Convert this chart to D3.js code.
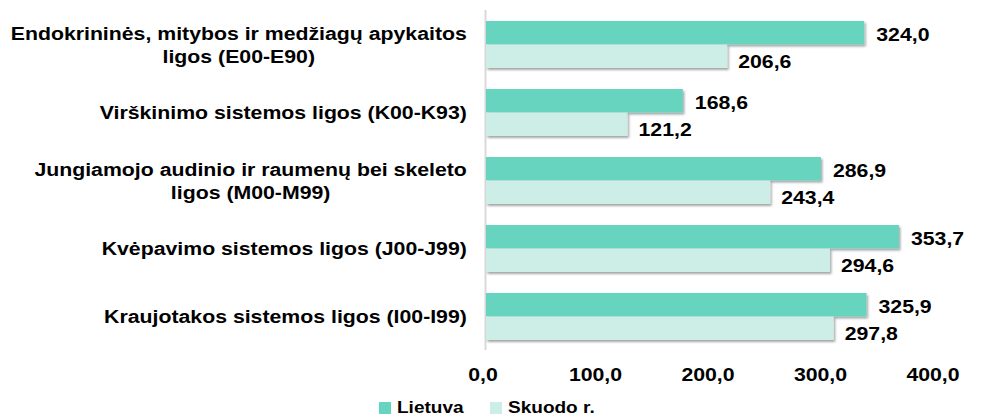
<!DOCTYPE html>
<html><head><meta charset="utf-8">
<script src="https://cdn.jsdelivr.net/npm/d3@7"></script>
<style>
html,body{margin:0;padding:0;background:#fff;}
svg{display:block;font-family:Arial,"Liberation Sans",sans-serif;}
</style></head>
<body>
<svg id="chart" width="982" height="418"></svg>
<script>
const categories = [
  ["Endokrininės, mitybos ir medžiagų apykaitos", "ligos (E00-E90)"],
  ["Virškinimo sistemos ligos (K00-K93)"],
  ["Jungiamojo audinio ir raumenų bei skeleto", "ligos (M00-M99)"],
  ["Kvėpavimo sistemos ligos (J00-J99)"],
  ["Kraujotakos sistemos ligos (I00-I99)"]
];
const seriesNames = ["Lietuva", "Skuodo r."];
const lietuva = [324.0, 168.6, 286.9, 353.7, 325.9];
const skuodo = [206.6, 121.2, 243.4, 294.6, 297.8];
const xTicks = [0, 100, 200, 300, 400];
const colors = ["#66D4BF", "#CDEEE6"];

const FS = 19, SX = 1.12;
const svg = d3.select("#chart");
const fmt = v => d3.format(".1f")(v).replace(".", ",");

const defs = svg.append("defs");
const f = defs.append("filter").attr("id","sh").attr("x","-5%").attr("y","-20%").attr("width","115%").attr("height","160%");
f.append("feDropShadow").attr("dx",1.5).attr("dy",2).attr("stdDeviation",1.2)
  .attr("flood-color","#000").attr("flood-opacity",0.35);

const x = d3.scaleLinear().domain([0, 400]).range([486, 953]);
const xLab = d3.scaleLinear().domain([0, 400]).range([482.5, 932.5]);
const idx = d3.range(categories.length);
const y = d3.scaleBand().domain(idx).range([10.5, 350.5]).paddingInner(21/68).paddingOuter(21/136);
const ySub = d3.scaleBand().domain([0,1]).range([0, y.bandwidth()]);

// axis line (vertical)
svg.append("line").attr("x1",485.5).attr("x2",485.5).attr("y1",10).attr("y2",350)
  .attr("stroke","#d9d9d9").attr("stroke-width",2);

const data = idx.map(i => [lietuva[i], skuodo[i]]);
const g = svg.append("g");
const labelDy = [1.5, 5];
const labelGap = [12, 11];
[0,1].forEach(s => {
  g.selectAll(".bar"+s).data(idx).enter().append("rect")
    .attr("x", x(0))
    .attr("y", i => y(i) + ySub(s))
    .attr("width", i => x(data[i][s]) - x(0))
    .attr("height", ySub.bandwidth())
    .attr("fill", colors[s])
    .attr("filter","url(#sh)");
});
[0,1].forEach(s => {
  g.selectAll(".lab"+s).data(idx).enter().append("text")
    .attr("transform", i => `translate(${x(data[i][s]) + labelGap[s]},${y(i) + ySub(s) + ySub.bandwidth()/2 + labelDy[s]}) scale(${SX},1)`)
    .attr("dominant-baseline","central")
    .attr("font-size",FS).attr("font-weight","bold").attr("fill","#000")
    .text(i => fmt(data[i][s]));
});

// x axis
const xAxis = d3.axisBottom(x).tickValues(xTicks).tickFormat(fmt).tickSize(0).tickPadding(0);
const ax = svg.append("g").attr("transform","translate(0,374)").call(xAxis);
ax.select(".domain").remove();
ax.selectAll(".tick text")
  .attr("y",0).attr("dy","0.35em")
  .attr("transform", d => `translate(${xLab(d) - x(d)},0) scale(${SX},1)`)
  .attr("font-size",FS).attr("font-weight","bold").attr("fill","#000")
  .attr("font-family","Arial, 'Liberation Sans', sans-serif");

// category labels
const catRight = 467;
const lineH = 23;
idx.forEach(i => {
  const lines = categories[i];
  const t = svg.append("text").attr("font-size",FS).attr("font-weight","bold").attr("fill","#000")
    .attr("text-anchor","middle");
  const cy = y(i) + y.bandwidth()/2;
  lines.forEach((ln, k) => {
    t.append("tspan").attr("x",0).attr("y", cy + (k - (lines.length-1)/2)*lineH)
      .attr("dominant-baseline","central").text(ln);
  });
  let maxW = 0;
  t.selectAll("tspan").each(function(){ maxW = Math.max(maxW, this.getComputedTextLength()); });
  t.attr("transform", `translate(${catRight - maxW*SX/2},0) scale(${SX},1)`);
});

// legend
const legX = [379, 490];
const leg = svg.append("g");
seriesNames.forEach((n, s) => {
  leg.append("rect").attr("x", legX[s]).attr("y",402).attr("width",12).attr("height",12).attr("fill",colors[s]);
  leg.append("text").attr("transform", `translate(${legX[s] + 18},413) scale(${SX},1)`)
    .attr("font-size",17).attr("font-weight","bold")
    .attr("fill","#000").text(n);
});
</script>
</body></html>
